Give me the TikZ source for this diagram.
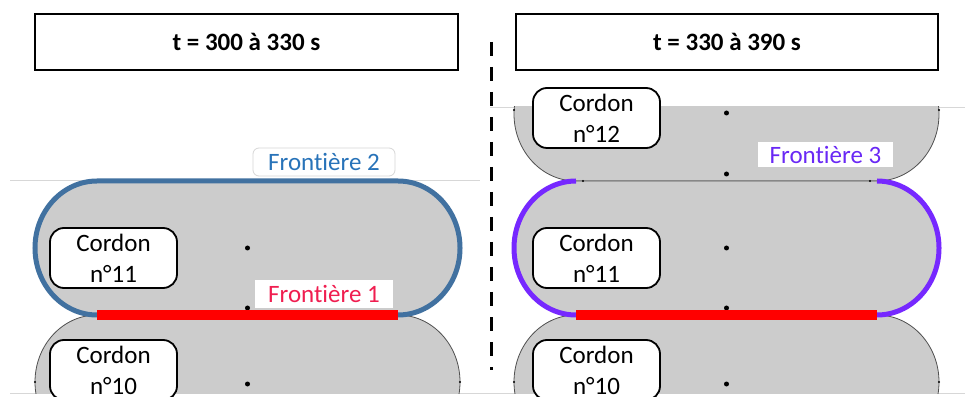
\documentclass[tikz,border=0pt]{standalone}
\usepackage{fontspec}
\setmainfont{Carlito}[Ligatures={NoCommon,NoRare}]
\definecolor{cgrey}{RGB}{204,204,204}
\definecolor{cline}{RGB}{80,80,80}
\definecolor{fblue}{RGB}{65,113,160}
\definecolor{fbluetxt}{RGB}{40,115,185}
\definecolor{fred}{RGB}{255,0,0}
\definecolor{fredtxt}{RGB}{240,30,80}
\definecolor{fpurple}{RGB}{118,40,255}
\definecolor{fpurpletxt}{RGB}{105,40,245}
\definecolor{faint}{RGB}{215,215,215}
\begin{document}
\begin{tikzpicture}[x=1pt,y=1pt,
  titlebox/.style={draw=black,line width=2pt,fill=white,minimum width=423pt,minimum height=56pt,inner sep=0pt,font=\bfseries\fontsize{25}{30}\selectfont},
  cordlab/.style={draw=black,line width=1.8pt,rounded corners=14pt,fill=white,minimum width=127pt,minimum height=60pt,inner sep=0pt,align=center,font=\fontsize{25}{31}\selectfont},
  frlab/.style={inner sep=0pt,fill=white,font=\fontsize{25}{30}\selectfont},
  cordout/.style={draw=cline,line width=0.8pt},
  dot/.style={fill=black},
  thinborder/.style={draw=faint,line width=0.8pt}]
\useasboundingbox (0,0) rectangle (965,396);
\clip (0,0) rectangle (965,396);
\fill[white] (0,0) rectangle (965,396);

% faint image borders
\draw[thinborder] (10,216) -- (480,216);
\draw[thinborder] (490,289) -- (965,289);
\draw[thinborder] (10,3) -- (965,3);

% cordons (fill + thin outline)
\begin{scope}
\clip (0,3) rectangle (965,289);
\foreach \cx/\cy in {247.5/148, 247.5/14, 726.5/282, 726.5/148, 726.5/14}{
  \path[fill=cgrey,cordout] (\cx-150.5,\cy+67) -- (\cx+150.5,\cy+67)
    arc[start angle=90,end angle=-90,x radius=62,y radius=67]
    -- (\cx-150.5,\cy-67)
    arc[start angle=270,end angle=90,x radius=62,y radius=67] -- cycle;
}
\end{scope}

% dots
\foreach \cx in {247.5,726.5}{
  \fill[dot] (\cx,148) circle (2.5pt);
  \fill[dot] (\cx,88) circle (2.5pt);
  \fill[dot] (\cx,12) circle (2.5pt);
}
\fill[dot] (726.5,283) circle (2.5pt);
\fill[dot] (726.5,222) circle (2.5pt);
\foreach \px/\py in {35/14,460/14,514/14,939/14,514/286,939/286,583/215,870/215}{
  \fill[dot] (\px,\py) circle (1.2pt);
}

% boundaries left
\draw[fblue,line width=5pt] (97,81)
  arc[start angle=270,end angle=90,x radius=62,y radius=67]
  -- (398,215)
  arc[start angle=90,end angle=-90,x radius=62,y radius=67];
\draw[fred,line width=9pt] (97,81) -- (398,81);

% boundaries right
\draw[fpurple,line width=5pt] (576,81)
  arc[start angle=270,end angle=90,x radius=62,y radius=67];
\draw[fpurple,line width=5pt] (877,215)
  arc[start angle=90,end angle=-90,x radius=62,y radius=67];
\draw[fred,line width=9pt] (576,81) -- (877,81);

% titles
\node[titlebox] (t1) at (246.5,354) {t = 300 à 330 s};
\node[titlebox,minimum width=422pt] (t2) at (727,354) {t = 330 à 390 s};

% separator
\coordinate (dtop) at (491,354);
\coordinate (dbot) at (491,26);
\draw[black,line width=3pt,dash pattern=on 14pt off 11pt] (dtop) -- (dbot);

% cordon labels
\node[cordlab] (l11) at (113.5,138) {Cordon\\n°11};
\node[cordlab] (l10) at (113.5,26) {Cordon\\n°10};
\node[cordlab] (r12) at (596.5,278) {Cordon\\n°12};
\node[cordlab] (r11) at (596.5,138) {Cordon\\n°11};
\node[cordlab] (r10) at (596.5,26) {Cordon\\n°10};

% frontiere labels
\node[frlab,draw=faint,line width=0.8pt,rounded corners=6pt,minimum width=142pt,minimum height=28pt,text=fbluetxt] (f2) at (324,234) {Frontière 2};
\node[frlab,minimum width=138pt,minimum height=28pt,text=fredtxt] (f1) at (324,102) {Frontière 1};
\node[frlab,minimum width=135pt,minimum height=25pt,text=fpurpletxt] (f3) at (825.5,241.5) {Frontière 3};
\end{tikzpicture}
\end{document}
